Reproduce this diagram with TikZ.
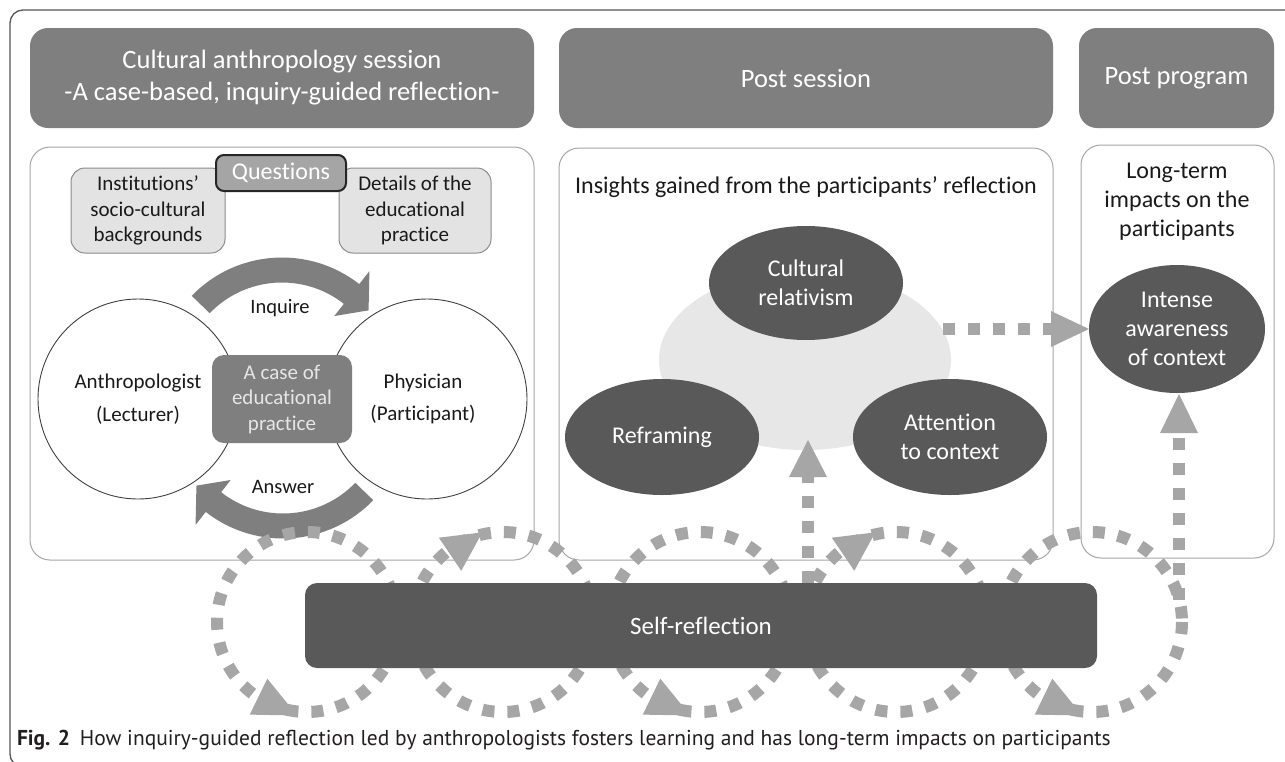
\documentclass[tikz,border=0pt]{standalone}
\usepackage{fontspec}
\setmainfont{Carlito}[RawFeature={-liga}]
\newfontfamily\capfont{PT Sans}
\usetikzlibrary{calc,shapes.geometric}
\definecolor{hdr}{HTML}{7F7F7F}
\definecolor{dk}{HTML}{595959}
\definecolor{lt}{HTML}{E7E7E7}
\definecolor{dotc}{HTML}{A6A6A6}
\definecolor{boxfill}{HTML}{E3E3E3}
\definecolor{sidel}{HTML}{8C8C8C}
\definecolor{qfill}{HTML}{A5A5A5}
\definecolor{qline}{HTML}{262626}
\definecolor{pline}{HTML}{A6A6A6}
\definecolor{cline}{HTML}{404040}
\definecolor{txt}{HTML}{1A1A1A}
\definecolor{ctxt}{HTML}{E6E6E6}
\definecolor{frm}{HTML}{555555}
\definecolor{captxt}{HTML}{231F20}
\begin{document}
\begin{tikzpicture}[x=1pt,y=-1pt,
  every node/.style={inner sep=0pt, outer sep=0pt},
  hdrbox/.style={rectangle, fill=hdr, rounded corners=18pt, text=white, font=\fontsize{26.5}{32}\selectfont, align=center, minimum height=100pt},
  panel/.style={rectangle, draw=pline, line width=1pt, rounded corners=20pt},
  sidebox/.style={rectangle, draw=sidel, fill=boxfill, line width=1pt, rounded corners=14pt, text=txt, font=\fontsize{21}{25.5}\selectfont, align=center, minimum height=85pt},
  roundc/.style={circle, draw=cline, line width=0.9pt, fill=white, minimum size=200pt, text=txt, font=\fontsize{21}{25.5}\selectfont, align=center},
  lbl/.style={text=txt, font=\fontsize{20.5}{25}\selectfont, align=center},
  lblb/.style={text=txt, font=\fontsize{24}{29}\selectfont, align=center},
  dkell/.style={ellipse, fill=dk, text=white, font=\fontsize{24}{29}\selectfont, align=center},
  dotln/.style={draw=dotc, line width=12pt, dash pattern=on 12pt off 13pt},
  tipfill/.style={fill=dotc}
]
\path[use as bounding box] (0,0) rectangle (1285,761);
\clip (0,0) rectangle (1285,761);
\fill[white] (0,0) rectangle (1285,761);
% outer frame
\draw[draw=frm, line width=1.3pt, rounded corners=13pt] (1300,10) -- (10,10) -- (10,767) -- (80,767);

% headers
\node[hdrbox, minimum width=504pt] (h1) at (282,78) {Cultural anthropology session\\-A case-based, inquiry-guided reflection-};
\node[hdrbox, minimum width=494pt] (h2) at (806,78) {Post session};
\node[hdrbox, minimum width=195pt] (h3) at (1176.5,78) {Post program};

% panels
\node[panel, minimum width=504pt, minimum height=413pt] (p1) at (282,353.5) {};
\node[panel, minimum width=494pt, minimum height=412pt] (p2) at (806,354) {};
\node[panel, minimum width=193pt, minimum height=413pt] (p3) at (1177.5,351.5) {};

% panel 1
\node[sidebox, minimum width=154pt] (inst) at (148,210.5) {Institutions’\\socio-cultural\\backgrounds};
\node[sidebox, minimum width=152pt] (det) at (415,210.5) {Details of the\\educational\\practice};
\node[rectangle, draw=qline, line width=2pt, fill=qfill, rounded corners=8pt, minimum width=130pt, minimum height=36pt, text=white, font=\fontsize{24}{28}\selectfont] (q) at (281,173) {Questions};

\node[roundc] (anth) at (138,399) {Anthropologist\\[7pt](Lecturer)};
\node[roundc] (phys) at (427,399) {\hspace*{-8pt}Physician\\[7pt]\hspace*{-8pt}(Participant)};

\coordinate (ic) at (282,383);
\coordinate (ac) at (283,413);
\fill[hdr] ($(ic)+(-136:125.5)$) arc[start angle=-136, end angle=-52, radius=125.5]
  -- ($(ic)+(-52:142)$) -- ($(ic)+(-40:113)$) -- ($(ic)+(-52:85)$)
  -- ($(ic)+(-52:100.5)$) arc[start angle=-52, end angle=-136, radius=100.5] -- cycle;
\fill[hdr] ($(ac)+(44:125.5)$) arc[start angle=44, end angle=128, radius=125.5]
  -- ($(ac)+(128:142)$) -- ($(ac)+(140:113)$) -- ($(ac)+(128:85)$)
  -- ($(ac)+(128:100.5)$) arc[start angle=128, end angle=44, radius=100.5] -- cycle;

\node[rectangle, fill=hdr, rounded corners=12pt, minimum width=140pt, minimum height=88pt, text=ctxt, font=\fontsize{21}{25.5}\selectfont, align=center] (case) at (282,399) {A case of\\educational\\practice};
\node[lbl] (inq) at (280,308) {Inquire};
\node[lbl] (ans) at (283,487) {Answer};

% panel 2
\node[lblb] (ins) at (806,187) {Insights gained from the participants’ reflection};
\node[ellipse, fill=lt, minimum width=292pt, minimum height=180pt] (light) at (805,360) {};
\node[dkell, minimum width=194pt, minimum height=114pt] (cult) at (806,283) {Cultural\\relativism};
\node[dkell, minimum width=194pt, minimum height=116pt] (refr) at (662,437) {Reframing};
\node[dkell, minimum width=194pt, minimum height=116pt] (attn) at (950,437) {Attention\\to context};

% panel 3
\node[lblb] (ltt) at (1177,202) {Long-term\\impacts on the\\participants};
\node[dkell, minimum width=176pt, minimum height=128pt] (aw) at (1177,329) {Intense\\awareness\\of context};

% horizontal dotted arrow
\coordinate (hs) at ($(aw.west)+(-146,0)$);
\coordinate (hb) at ($(aw.west)+(-38,0)$);
\draw[dotln] (hs) -- (hb);
\fill[tipfill] (aw.west) -- ($(hb)+(0,-18)$) -- ($(hb)+(0,18)$) -- cycle;

% loops
\foreach \i/\cx in {1/307,2/503,3/700,4/896,5/1092} {\coordinate (L\i) at (\cx,622);}
\foreach \i in {1,...,5} {\draw[dotln] (L\i) circle[radius=90];}

% self-reflection bar
\node[rectangle, fill=dk, rounded corners=12pt, minimum width=792pt, minimum height=85pt, text=white, font=\fontsize{25}{30}\selectfont] (bar) at (701,625.5) {Self-reflection};

% loop arrowheads
\foreach \i in {1,3,5} {
  \coordinate (T) at ($(L\i)+(96:94)$);
  \coordinate (B) at ($(L\i)+(123:89)$);
  \fill[tipfill] (T) -- ($(B)!20pt!90:(T)$) -- ($(B)!20pt!-90:(T)$) -- cycle;
}
\foreach \i in {2,4} {
  \coordinate (T) at ($(L\i)+(-103:92)$);
  \coordinate (B) at ($(L\i)+(-128:86)$);
  \fill[tipfill] (T) -- ($(B)!20pt!90:(T)$) -- ($(B)!20pt!-90:(T)$) -- cycle;
}

% vertical arrow to insights
\coordinate (vt) at (808,440);
\coordinate (vb) at ($(vt)+(0,37)$);
\coordinate (vs) at (bar.north -| vt);
\draw[dotln] (vs) -- (vb);
\fill[tipfill] (vt) -- ($(vb)+(-19,0)$) -- ($(vb)+(19,0)$) -- cycle;

% vertical arrow to long-term
\coordinate (rs) at ($(aw.south)+(2,207)$);
\coordinate (rb) at ($(aw.south)+(2,40)$);
\coordinate (rt) at ($(aw.south)+(2,1)$);
\draw[dotln] (rs) -- (rb);
\fill[tipfill] (rt) -- ($(rb)+(-19,0)$) -- ($(rb)+(19,0)$) -- cycle;

% caption
\node[anchor=west, text=captxt, font=\capfont\fontsize{21.5}{25}\selectfont] (cap) at (17,740) {\textbf{Fig. 2}\hspace{10pt}How inquiry-guided reflection led by anthropologists fosters learning and has long-term impacts on participants};
\end{tikzpicture}
\end{document}
